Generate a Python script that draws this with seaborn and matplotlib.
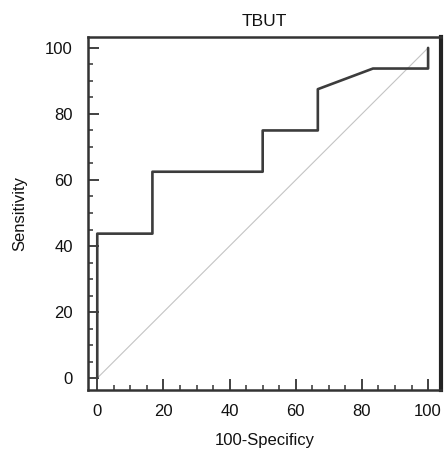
import matplotlib
matplotlib.use("Agg")
import matplotlib.pyplot as plt
import seaborn as sns
import pandas as pd
from matplotlib.ticker import MultipleLocator

fpr = [0, 0, 16.67, 16.67, 50, 50, 66.67, 66.67, 83.33, 100, 100]
tpr = [0, 43.75, 43.75, 62.5, 62.5, 75, 75, 87.5, 93.75, 93.75, 100]
diag_x = [0, 100]
diag_y = [0, 100]
ticks = [0, 20, 40, 60, 80, 100]

sns.set_style("ticks")
plt.rcParams['font.family'] = ['Liberation Sans', 'DejaVu Sans']

fig = plt.figure(figsize=(4.44, 4.55), dpi=100)
ax = fig.add_axes([88/444, 1-390/455, (441-88)/444, (390-37)/455])

df = pd.DataFrame({"x": fpr, "y": tpr})
dd = pd.DataFrame({"x": diag_x, "y": diag_y})
sns.lineplot(data=dd, x="x", y="y", ax=ax, color="#c4c4c4", linewidth=0.8,
             sort=False, estimator=None)
sns.lineplot(data=df, x="x", y="y", ax=ax, color="#3c3c3c", linewidth=1.9,
             sort=False, estimator=None)

ax.set_xlim(-2.8, 103.9)
ax.set_ylim(-3.6, 103.3)
ax.set_xticks(ticks)
ax.set_yticks(ticks)
ax.xaxis.set_minor_locator(MultipleLocator(5))
ax.yaxis.set_minor_locator(MultipleLocator(5))
ax.tick_params(which="both", bottom=True, left=True, top=False, right=False)
ax.tick_params(which="major", direction="in", length=8, width=1.3, color="#333333",
               labelsize=12, labelcolor="#111111")
ax.tick_params(which="minor", direction="in", length=3.6, width=1.1, color="#333333")
ax.tick_params(axis="y", which="major", pad=11)
ax.tick_params(axis="x", which="major", pad=10)

for s in ["left", "bottom", "top"]:
    ax.spines[s].set_visible(True)
    ax.spines[s].set_color("#333333")
    ax.spines[s].set_linewidth(1.8)
ax.spines["right"].set_visible(True)
ax.spines["right"].set_color("#222222")
ax.spines["right"].set_linewidth(3.0)

ax.set_title("TBUT", fontsize=12.5, color="#111111", pad=8)
ax.set_xlabel("100-Specificy", fontsize=12, color="#111111", labelpad=10)
ax.set_ylabel("Sensitivity", fontsize=12, color="#111111", labelpad=13)

fig.savefig("out.png", dpi=100)
